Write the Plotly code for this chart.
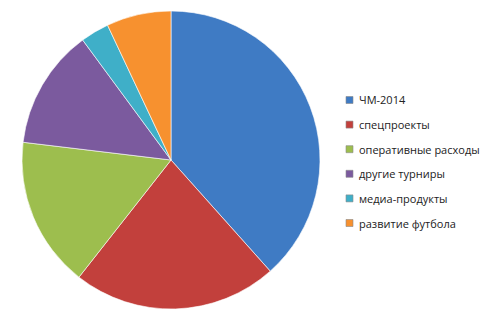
import plotly.graph_objects as go

labels = ["ЧМ-2014", "спецпроекты", "оперативные расходы", "другие турниры", "медиа-продукты", "развитие футбола"]
values = [38.4, 22.2, 16.3, 13.0, 3.1, 7.0]
colors = ["#3F7BC4", "#C2403C", "#9DBE4E", "#7B5A9E", "#3FAFC8", "#F7912F"]

W, H = 500, 330
fig = go.Figure()
fig.add_trace(go.Pie(
    labels=labels, values=values, sort=False, direction="clockwise", rotation=0,
    marker=dict(colors=colors, line=dict(color="rgba(255,255,255,0.6)", width=1)),
    textinfo="none", hoverinfo="label+percent", showlegend=False,
    domain=dict(x=[22 / W, 320 / W], y=[1 - 309 / H, 1 - 11 / H]),
))

shapes, annos = [], []
y0, step = 100, 24.6
for i, (lab, col) in enumerate(zip(labels, colors)):
    yc = y0 + i * step
    shapes.append(dict(type="rect", xref="paper", yref="paper",
                       x0=346 / W, x1=353 / W, y0=1 - (yc + 3.5) / H, y1=1 - (yc - 3.5) / H,
                       fillcolor=col, line=dict(color="#8a8a8a", width=0.6)))
    annos.append(dict(text=lab, xref="paper", yref="paper", x=357 / W, y=1 - yc / H,
                      xanchor="left", yanchor="middle", showarrow=False,
                      font=dict(family="Open Sans", size=11, color="#222")))

fig.update_layout(width=W, height=H, margin=dict(l=0, r=0, t=0, b=0),
                  paper_bgcolor="white", plot_bgcolor="white",
                  shapes=shapes, annotations=annos)
fig.write_html("out.html")
